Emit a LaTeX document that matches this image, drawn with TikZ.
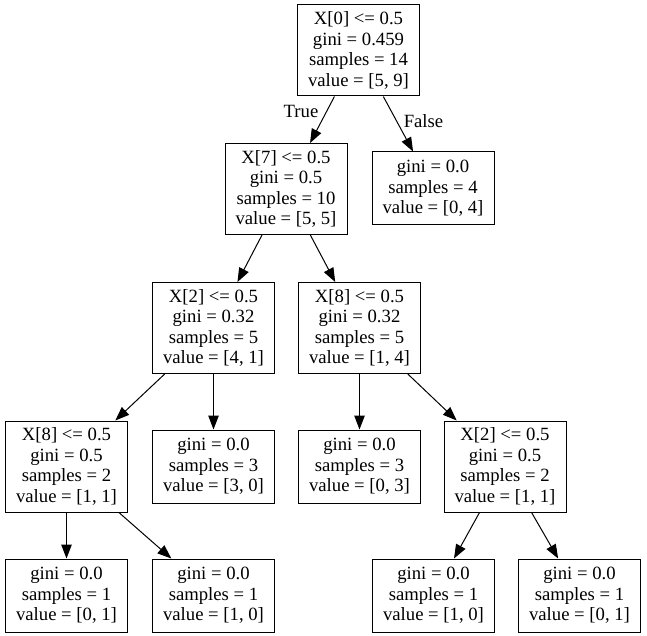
\documentclass[tikz,border=0pt]{standalone}
\usepackage{fontspec}
\setmainfont{Liberation Serif}
\usetikzlibrary{arrows.meta}
\begin{document}
\begin{tikzpicture}[x=1pt,y=-1pt,
  every node/.style={font=\fontsize{18.7}{20.6}\selectfont},
  split/.style={draw, line width=1pt, rectangle, minimum width=122pt, minimum height=91pt, inner sep=0pt, align=center},
  leaf/.style={draw, line width=1pt, rectangle, minimum width=122pt, minimum height=73pt, inner sep=0pt, align=center},
  edge/.style={line width=1pt, -{Triangle[length=14pt,width=10.5pt]}},
  elabel/.style={inner sep=0pt}]
\useasboundingbox (0,0) rectangle (647,636);
\fill[white] (0,0) rectangle (647,636);
\node[split] (n0) at (358.5,50.5) {X[0] <= 0.5\\gini = 0.459\\samples = 14\\value = [5, 9]};
\node[split] (n1) at (286,189) {X[7] <= 0.5\\gini = 0.5\\samples = 10\\value = [5, 5]};
\node[leaf] (n2) at (433,188.5) {gini = 0.0\\samples = 4\\value = [0, 4]};
\node[split] (n3) at (213.5,328) {X[2] <= 0.5\\gini = 0.32\\samples = 5\\value = [4, 1]};
\node[split] (n4) at (359.5,328) {X[8] <= 0.5\\gini = 0.32\\samples = 5\\value = [1, 4]};
\node[split] (n5) at (66.5,466.5) {X[8] <= 0.5\\gini = 0.5\\samples = 2\\value = [1, 1]};
\node[leaf] (n6) at (213.5,466.5) {gini = 0.0\\samples = 3\\value = [3, 0]};
\node[leaf] (n7) at (359.5,466.5) {gini = 0.0\\samples = 3\\value = [0, 3]};
\node[split] (n8) at (505,466.5) {X[2] <= 0.5\\gini = 0.5\\samples = 2\\value = [1, 1]};
\node[leaf] (n9) at (66.5,595.5) {gini = 0.0\\samples = 1\\value = [0, 1]};
\node[leaf] (n10) at (213.5,595.5) {gini = 0.0\\samples = 1\\value = [1, 0]};
\node[leaf] (n11) at (433.5,595.5) {gini = 0.0\\samples = 1\\value = [1, 0]};
\node[leaf] (n12) at (579.5,595.5) {gini = 0.0\\samples = 1\\value = [0, 1]};
\draw[edge] (n0) -- (n1);
\draw[edge] (n0) -- (n2);
\draw[edge] (n1) -- (n3);
\draw[edge] (n1) -- (n4);
\draw[edge] (n3) -- (n5);
\draw[edge] (n3) -- (n6);
\draw[edge] (n4) -- (n7);
\draw[edge] (n4) -- (n8);
\draw[edge] (n5) -- (n9);
\draw[edge] (n5) -- (n10);
\draw[edge] (n8) -- (n11);
\draw[edge] (n8) -- (n12);
\node[elabel] (t) at (301,111) {True};
\node[elabel] (f) at (423.5,121.5) {False};
\end{tikzpicture}
\end{document}
